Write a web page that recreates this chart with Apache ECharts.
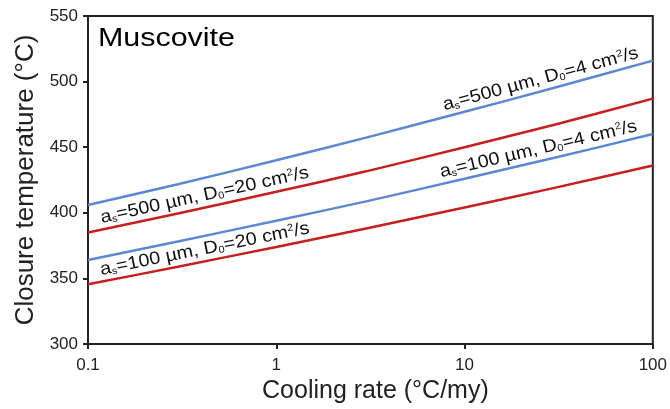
<!DOCTYPE html>
<html>
<head>
<meta charset="utf-8">
<script src="https://cdn.jsdelivr.net/npm/echarts@6/dist/echarts.min.js"></script>
<style>html,body{margin:0;padding:0;background:#fff}#c{width:670px;height:409px}</style>
</head>
<body>
<div id="c"></div>
<script>
// Cooling rate (°C/my)
const coolingRates = [0.1, 0.3, 1, 3, 10, 30, 100];
// Closure temperatures (°C)
const blue500 = [406, 421.8, 440, 457.3, 477, 495.3, 516];
const red500  = [385, 399.5, 416, 431.6, 450, 467.1, 487];
const blue100 = [364, 378.1, 394, 408.7, 426, 441.9, 460];
const red100  = [345.5, 358.9, 374, 388.1, 404, 419, 436];
const xTickLabels = ['0.1', '1', '10', '100'];
const yTicks = [300, 350, 400, 450, 500, 550];

const BLUE = '#5b87d5';
const RED = '#c81e1e';
const FONT = '"Liberation Sans", Arial, sans-serif';

function pairs(ys) { return coolingRates.map((x, i) => [x, ys[i]]); }

const chart = echarts.init(document.getElementById('c'), null, {renderer: 'canvas'});
const seriesDefs = [
  {name: 'a500 D4', data: blue500, color: BLUE},
  {name: 'a500 D20', data: red500, color: RED},
  {name: 'a100 D4', data: blue100, color: BLUE},
  {name: 'a100 D20', data: red100, color: RED}
];

chart.setOption({
  animation: false,
  backgroundColor: '#fff',
  grid: {left: 88, right: 16, top: 16, bottom: 62, show: true, borderColor: '#222', borderWidth: 2},
  xAxis: {
    type: 'log', logBase: 10, min: 0.1, max: 100,
    name: 'Cooling rate (°C/my)', nameLocation: 'middle', nameGap: 35,
    nameTextStyle: {fontFamily: FONT, fontSize: 25, color: '#222', padding: [0, 0, 0, 10]},
    axisLine: {show: true, lineStyle: {color: '#222', width: 2}},
    axisTick: {show: true, inside: false, length: 5, lineStyle: {color: '#222', width: 2}},
    minorTick: {show: false},
    splitLine: {show: false},
    axisLabel: {
      fontFamily: FONT, fontSize: 17, color: '#222', margin: 13,
      formatter: v => {
        const l = Math.round(Math.log10(v));
        return xTickLabels[l + 1] !== undefined ? xTickLabels[l + 1] : '';
      }
    }
  },
  yAxis: {
    type: 'value', min: yTicks[0], max: yTicks[yTicks.length - 1], interval: 50,
    name: 'Closure temperature (°C)', nameLocation: 'middle', nameGap: 47,
    nameTextStyle: {fontFamily: FONT, fontSize: 26, color: '#222'},
    axisLine: {show: true, lineStyle: {color: '#222', width: 2}},
    axisTick: {show: true, inside: false, length: 5, lineStyle: {color: '#222', width: 2}},
    splitLine: {show: false},
    axisLabel: {fontFamily: FONT, fontSize: 17, color: '#222', margin: 10}
  },
  series: seriesDefs.map(s => ({
    type: 'line', name: s.name, data: pairs(s.data), smooth: 0.3,
    showSymbol: false, symbol: 'none',
    lineStyle: {color: s.color, width: 2.5}, itemStyle: {color: s.color}, z: 2
  }))
});

// Curve labels placed along the lines via the chart's own scales
const labels = [
  {data: blue500, x0: 8.5, x1: 80, text: 'a{sub|s}=500 µm, D{sub|0}=4 cm{sup|2}/s'},
  {data: blue100, x0: 8.0, x1: 80, text: 'a{sub|s}=100 µm, D{sub|0}=4 cm{sup|2}/s'},
  {data: red500, x0: 0.11, x1: 1.65, text: 'a{sub|s}=500 µm, D{sub|0}=20 cm{sup|2}/s'},
  {data: red100, x0: 0.11, x1: 1.65, text: 'a{sub|s}=100 µm, D{sub|0}=20 cm{sup|2}/s'}
];
function interp(ys, x) {
  const lx = Math.log10(x);
  for (let i = 0; i < coolingRates.length - 1; i++) {
    const a = Math.log10(coolingRates[i]), b = Math.log10(coolingRates[i + 1]);
    if (lx >= a && lx <= b) return ys[i] + (ys[i + 1] - ys[i]) * (lx - a) / (b - a);
  }
  return ys[ys.length - 1];
}
const graphics = labels.map(l => {
  const p0 = chart.convertToPixel({gridIndex: 0}, [l.x0, interp(l.data, l.x0)]);
  const p1 = chart.convertToPixel({gridIndex: 0}, [l.x1, interp(l.data, l.x1)]);
  const xm = Math.sqrt(l.x0 * l.x1);
  const pm = chart.convertToPixel({gridIndex: 0}, [xm, interp(l.data, xm)]);
  const ang = Math.atan2(p0[1] - p1[1], p1[0] - p0[0]);
  return {
    type: 'text', x: pm[0], y: pm[1] - 3, rotation: ang, scaleX: 1.1, originX: 0, originY: 0, z: 10,
    style: {
      text: l.text, fontFamily: FONT, fontSize: 18, fill: '#111',
      textAlign: 'center', textVerticalAlign: 'bottom',
      rich: {
        sub: {fontSize: 10, fontFamily: FONT, fill: '#111', padding: [7, 0, 0, 0], verticalAlign: 'bottom'},
        sup: {fontSize: 10, fontFamily: FONT, fill: '#111', padding: [0, 0, 7, 0], verticalAlign: 'top'}
      }
    }
  };
});
graphics.push({
  type: 'text', x: 98, y: 26, scaleX: 1.17, z: 10,
  style: {text: 'Muscovite', fontFamily: FONT, fontSize: 26, fill: '#000', textAlign: 'left', textVerticalAlign: 'top'}
});
chart.setOption({graphic: graphics});
</script>
</body>
</html>
